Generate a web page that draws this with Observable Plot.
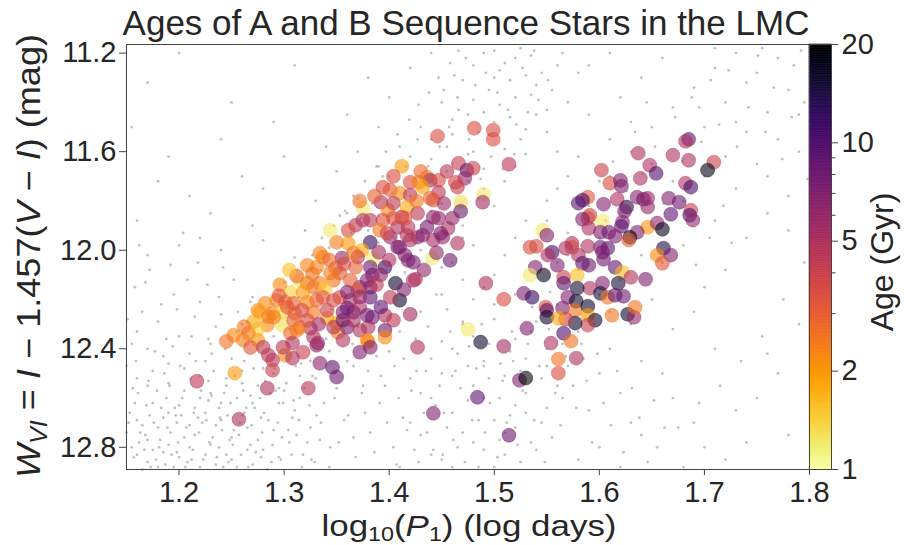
<!DOCTYPE html>
<html><head><meta charset="utf-8">
<script src="https://cdn.jsdelivr.net/npm/d3@7"></script>
<script src="https://cdn.jsdelivr.net/npm/@observablehq/plot@0.6"></script>
<style>
body{margin:0;background:#fff;}
#wrap{position:relative;width:904px;height:545px;overflow:hidden;}
#wrap svg{position:absolute;top:0;overflow:visible;}
</style></head><body><div id="wrap"></div>
<script>
const xTicks = [1.2, 1.3, 1.4, 1.5, 1.6, 1.7, 1.8];
const yTicks = [11.2, 11.6, 12.0, 12.4, 12.8];
const ageTicks = [1, 2, 5, 10, 20];
const ageMinorTicks = [3, 4, 6, 7, 8, 9];

// [log10 P1, W_VI, age (Gyr)]
const seqStars = [
[1.446,11.537,3.5],[1.481,11.505,3.5],[1.499,11.513,3.5],[1.499,11.550,3.5],[1.514,11.651,4.5],[1.412,11.659,2.0],[1.466,11.647,4],[1.474,11.675,9],[1.480,11.667,4],[1.472,11.708,6],[1.463,11.724,3.8],[1.465,11.744,4],[1.490,11.773,1.2],[1.489,11.805,5.5],[1.468,11.805,1.3],[1.468,11.842,8],[1.436,11.704,2.4],[1.439,11.716,6],[1.447,11.716,3.5],[1.447,11.765,4.5],[1.420,11.724,3.5],[1.428,11.724,2.3],[1.432,11.744,1.9],[1.394,11.744,3.5],[1.401,11.756,3.2],[1.410,11.769,2.2],[1.420,11.777,4.5],[1.439,11.789,3.0],[1.442,11.797,3.2],[1.392,11.805,5],[1.375,11.830,1.2],[1.399,11.838,2.3],[1.417,11.825,1.8],[1.404,11.809,4.5],[1.427,11.850,4.5],[1.412,11.866,4.5],[1.394,11.878,3.5],[1.375,11.878,5],[1.382,11.878,4.5],[1.368,11.899,4.5],[1.361,11.919,3.5],[1.442,11.866,6.5],[1.447,11.870,6],[1.436,11.907,7.5],[1.456,11.911,5],[1.418,11.907,4.5],[1.408,11.907,5],[1.391,11.919,2.5],[1.382,11.968,12],[1.374,12.000,1.8],[1.350,11.968,2.4],[1.344,11.919,1.2],[1.361,11.972,2.0],[1.401,11.947,6],[1.408,11.988,7],[1.427,11.947,7],[1.432,11.939,6.5],[1.442,11.959,5.5],[1.451,11.947,6],[1.465,11.972,5],[1.458,12.041,8],[1.441,12.032,1.2],[1.418,12.041,7],[1.423,12.049,7.5],[1.396,12.069,12],[1.385,12.032,1.2],[1.390,12.008,5.5],[1.355,12.032,6],[1.334,12.012,2.3],[1.322,12.061,2.3],[1.315,12.122,1.3],[1.370,12.028,4.5],[1.384,12.101,7],[1.406,12.134,16],[1.425,12.118,5],[1.410,12.203,16],[1.401,12.191,4.5],[1.382,12.191,9],[1.366,12.252,10],[1.384,12.272,8],[1.396,12.264,5],[1.404,12.284,4.5],[1.380,12.313,5],[1.396,12.325,8],[1.396,12.353,2.2],[1.380,12.373,2.3],[1.372,12.414,7],[1.351,12.333,2.3],[1.356,12.365,5],[1.341,12.276,1.9],[1.328,12.252,2.5],[1.331,12.203,3.0],[1.325,12.317,5],[1.331,12.386,5.5],[1.318,12.414,4],[1.334,12.459,6.5],[1.346,12.475,9],[1.350,12.515,8],[1.323,12.560,4.5],[1.427,12.394,5],[1.475,12.321,1.2],[1.487,12.373,16],[1.484,12.597,9],[1.442,12.662,7],[1.306,12.170,1.4],[1.282,12.215,2.2],[1.293,12.203,2.3],[1.301,12.211,3.0],[1.277,12.252,1.6],[1.289,12.256,2.2],[1.299,12.252,1.4],[1.310,12.256,3.0],[1.284,12.304,2.2],[1.298,12.304,1.3],[1.315,12.313,2.4],[1.275,12.321,1.4],[1.266,12.337,2.4],[1.261,12.365,2.4],[1.275,12.365,2.0],[1.306,12.337,2.8],[1.308,12.377,5],[1.333,12.300,5.5],[1.332,12.377,6.5],[1.301,12.426,2.2],[1.308,12.438,5],[1.285,12.426,4.5],[1.289,12.446,4.5],[1.289,12.487,4],[1.253,12.499,2.0],[1.217,12.532,4.5],[1.284,12.560,5],[1.257,12.686,5],[1.350,12.296,1.8],[1.356,12.252,7],[1.360,12.313,7.5],[1.404,11.870,3.5],[1.398,11.931,3.8],[1.417,11.939,4.5],[1.420,11.959,5],[1.410,11.988,7],[1.449,11.931,7],[1.415,12.020,7],[1.382,12.069,8],[1.382,12.150,8],[1.372,12.150,7],[1.379,12.122,6.5],[1.349,12.073,3.0],[1.353,12.093,3.2],[1.366,12.012,2.5],[1.368,12.069,3.0],[1.363,12.122,3.0],[1.370,12.162,3.2],[1.344,12.093,2.4],[1.347,12.122,2.6],[1.337,12.028,2.4],[1.331,12.069,2.3],[1.322,12.134,2.4],[1.328,12.150,2.6],[1.334,12.134,2.4],[1.339,12.154,1.5],[1.337,12.191,3.2],[1.347,12.203,3.5],[1.353,12.191,3.5],[1.322,12.211,2.4],[1.309,12.215,3.0],[1.363,12.203,5],[1.360,12.235,8],[1.372,12.231,5],[1.379,12.264,8],[1.341,12.244,4],[1.317,12.244,3.5],[1.303,12.231,3.2],[1.275,12.244,2.2],[1.290,12.272,2.3],[1.309,12.284,3.0],[1.312,12.325,2.4],[1.322,12.284,3.5],[1.328,12.353,5],[1.347,12.313,5],[1.356,12.284,8],[1.366,12.284,5],[1.372,12.325,5],[1.379,12.365,2.2],[1.382,12.394,7],[1.423,12.122,5],[1.280,12.394,4.5],[1.299,12.394,4.5],
[1.296,12.140,2.2],[1.318,12.172,2.0],[1.327,12.095,2.6],[1.285,12.270,2.4],[1.271,12.290,1.8],[1.262,12.310,2.6],[1.252,12.345,2.2],[1.245,12.370,2.6],[1.268,12.395,3.2],[1.343,12.040,2.8],[1.357,12.055,3.5],[1.312,12.105,2.8],[1.305,12.080,1.6],[1.295,12.185,3.3],[1.392,12.100,6],[1.400,12.040,5],[1.433,12.080,6],[1.445,12.010,6],[1.414,12.160,7],[1.392,12.230,9],[1.372,12.190,6],[1.360,12.170,7],[1.388,12.140,4.5],[1.420,12.260,5.5],[1.455,11.680,4.5],[1.430,11.680,2.8],[1.404,11.700,3.5],[1.386,11.780,3],[1.372,11.800,2.6],[1.426,11.800,2.5],[1.452,11.810,5.5],[1.460,11.870,6],[1.415,11.870,3.3],
[1.685,11.550,9],[1.682,11.558,5],[1.637,11.606,5],[1.670,11.614,5],[1.685,11.635,5],[1.709,11.643,4],[1.703,11.675,18],[1.648,11.655,5],[1.654,11.688,10],[1.602,11.675,4],[1.639,11.708,5],[1.610,11.728,3.5],[1.620,11.716,7],[1.621,11.740,7],[1.682,11.728,5],[1.687,11.744,11],[1.636,11.785,6.5],[1.642,11.793,8],[1.646,11.789,6],[1.646,11.825,6],[1.617,11.793,5],[1.604,11.813,7],[1.589,11.785,3.2],[1.584,11.797,11],[1.580,11.809,9],[1.626,11.825,14],[1.624,11.842,7],[1.666,11.789,7],[1.676,11.805,8],[1.668,11.854,9],[1.687,11.838,4],[1.686,11.858,10],[1.689,11.878,6],[1.591,11.858,4],[1.589,11.870,3.5],[1.584,11.874,7],[1.603,11.882,1.2],[1.590,11.911,5],[1.622,11.886,7],[1.621,11.903,9],[1.646,11.907,2.0],[1.655,11.890,6],[1.660,11.915,17],[1.636,11.927,7],[1.629,11.947,19],[1.628,11.959,3],[1.546,11.919,1.2],[1.550,11.939,7],[1.601,11.927,7],[1.609,11.927,8],[1.615,11.943,7],[1.601,11.988,8],[1.608,11.992,9],[1.589,11.984,5],[1.574,11.972,5],[1.574,11.988,3.5],[1.568,11.992,5],[1.534,11.988,3.5],[1.540,11.984,3.5],[1.555,12.008,11],[1.551,12.020,5],[1.580,12.020,5],[1.661,11.992,14],[1.655,12.020,2.2],[1.668,12.020,7],[1.660,12.053,3.2],[1.584,12.053,9],[1.603,12.008,7],[1.604,12.037,8],[1.590,12.061,8],[1.560,12.061,7],[1.539,12.069,7],[1.534,12.101,1.2],[1.547,12.101,17],[1.566,12.110,4],[1.566,12.134,9],[1.579,12.101,1.6],[1.615,12.069,9],[1.622,12.089,1.6],[1.630,12.110,5],[1.644,12.118,7],[1.603,12.134,7],[1.618,12.134,15],[1.591,12.154,5],[1.579,12.154,15],[1.570,12.191,7],[1.528,12.175,7],[1.536,12.191,12],[1.509,12.199,3.5],[1.601,12.175,15],[1.608,12.191,2.6],[1.615,12.183,9],[1.623,12.187,8],[1.578,12.207,16],[1.549,12.231,3.5],[1.550,12.244,9],[1.565,12.235,7],[1.577,12.244,2.6],[1.589,12.227,16],[1.589,12.264,1.9],[1.596,12.284,16],[1.589,12.304,4],[1.577,12.296,16],[1.568,12.280,4],[1.550,12.272,16],[1.561,12.276,1.8],[1.612,12.264,2.6],[1.627,12.260,16],[1.633,12.272,6],[1.634,12.231,2.6],[1.531,12.317,7],[1.566,12.337,10],[1.573,12.369,2.6],[1.554,12.377,5],[1.509,12.390,5.5],[1.561,12.442,2.6],[1.578,12.438,5],[1.561,12.499,3.5],[1.524,12.528,7],[1.530,12.519,19],[1.514,12.751,8],[1.492,12.134,5]
];

// background OGLE stars [log10 P1, W_VI]
const fieldStars = [
[1.16,12.83],[1.21,12.71],[1.18,12.88],[1.27,12.62],[1.23,12.79],[1.15,12.74],[1.30,12.57],[1.19,12.66],[1.25,12.85],[1.22,12.60],[1.17,12.77],[1.28,12.81],[1.24,12.69],[1.20,12.84],[1.26,12.54],[1.16,12.69],[1.29,12.73],[1.22,12.88],[1.18,12.72],[1.31,12.65],[1.25,12.76],[1.20,12.63],[1.27,12.87],[1.23,12.58],[1.17,12.86],[1.29,12.50],[1.21,12.80],[1.26,12.67],[1.19,12.79],[1.24,12.62],
[1.155,12.80],[1.285,12.69],[1.215,12.75],[1.245,12.83],[1.175,12.62],[1.265,12.72],[1.205,12.57],[1.235,12.87],[1.305,12.78],[1.195,12.88],[1.255,12.60],[1.225,12.66],[1.275,12.55],[1.165,12.71],[1.295,12.84],[1.185,12.82],[1.315,12.60],[1.235,12.71],[1.205,12.76],[1.265,12.81],[1.165,12.89],[1.245,12.55],[1.275,12.77],[1.185,12.68],[1.215,12.64],[1.295,12.62],[1.255,12.88],[1.325,12.72],[1.175,12.81],[1.225,12.83],
[1.158,12.62],[1.198,12.70],[1.238,12.64],[1.278,12.68],[1.318,12.83],[1.168,12.75],[1.208,12.86],[1.248,12.77],[1.288,12.86],[1.228,12.53],[1.188,12.60],[1.268,12.59],[1.308,12.68],[1.218,12.68],[1.258,12.70],[1.178,12.85],[1.298,12.76],[1.238,12.80],[1.198,12.82],[1.278,12.84],[1.152,12.70],[1.192,12.74],[1.232,12.76],[1.272,12.64],[1.312,12.75],[1.162,12.78],[1.202,12.67],[1.242,12.88],[1.282,12.53],[1.222,12.70],[1.262,12.66],[1.172,12.67],[1.212,12.85],[1.252,12.73],[1.292,12.57],[1.182,12.77],[1.228,12.61],[1.268,12.79],[1.196,12.64],[1.246,12.67],
[1.153,12.66],[1.157,12.84],[1.161,12.58],[1.163,12.74],[1.167,12.81],[1.169,12.63],[1.173,12.88],[1.176,12.70],[1.179,12.57],[1.181,12.80],[1.183,12.64],[1.187,12.87],[1.189,12.72],[1.191,12.55],[1.193,12.83],[1.197,12.67],[1.199,12.78],[1.203,12.60],[1.206,12.88],[1.207,12.72],[1.211,12.52],[1.213,12.81],[1.214,12.66],[1.219,12.74],[1.221,12.57],[1.223,12.85],[1.226,12.69],[1.229,12.78],[1.231,12.59],[1.233,12.49],
[1.236,12.84],[1.239,12.68],[1.241,12.73],[1.243,12.58],[1.247,12.86],[1.249,12.62],[1.251,12.79],[1.253,12.51],[1.257,12.75],[1.259,12.83],[1.261,12.57],[1.264,12.64],[1.266,12.88],[1.269,12.71],[1.271,12.48],[1.273,12.82],[1.277,12.60],[1.279,12.74],[1.281,12.66],[1.284,12.89],[1.287,12.58],[1.289,12.79],[1.291,12.48],[1.294,12.70],[1.297,12.85],[1.299,12.62],[1.302,12.54],[1.304,12.73],[1.307,12.83],[1.309,12.61],
[1.311,12.47],[1.314,12.69],[1.317,12.88],[1.319,12.56],[1.322,12.78],[1.324,12.63],[1.327,12.51],[1.329,12.86],[1.331,12.67],[1.334,12.77],[1.156,12.56],[1.171,12.53],[1.186,12.50],[1.201,12.47],[1.216,12.45],[1.231,12.42],[1.159,12.45],[1.177,12.41],[1.194,12.39],[1.212,12.35],[1.244,12.40],[1.262,12.45],[1.256,12.25],[1.183,12.22],[1.168,12.13],[1.192,12.06],[1.151,12.28],[1.227,12.14],[1.242,12.07],[1.204,11.93],
[1.16,12.52],[1.19,12.46],[1.22,12.51],[1.17,12.40],[1.25,12.44],[1.20,12.35],[1.15,12.47],[1.23,12.38],[1.18,12.29],[1.26,12.49],[1.21,12.42],[1.16,12.33],[1.24,12.26],[1.19,12.54],[1.27,12.37],[1.22,12.21],[1.17,12.55],[1.155,12.38],[1.205,12.48],[1.235,12.31],[1.185,12.43],[1.215,12.27],[1.165,12.25],[1.245,12.52],[1.195,12.18],[1.255,12.33],[1.175,12.49],[1.225,12.45],[1.158,12.15],[1.208,12.12],[1.188,12.36],[1.238,12.19],[1.265,12.29],[1.172,12.08],[1.218,12.05],[1.252,12.12],[1.162,11.98],[1.198,12.24],[1.228,12.36],[1.268,12.21],
[1.28,12.48],[1.31,12.41],[1.26,12.30],[1.33,12.52],[1.29,12.22],[1.36,12.45],[1.30,12.13],[1.34,12.36],[1.38,12.49],[1.32,12.27],[1.27,12.19],[1.35,12.10],[1.40,12.41],[1.37,12.31],[1.42,12.52],[1.31,12.03],[1.39,12.22],[1.44,12.44],[1.36,12.01],[1.41,12.33],[1.46,12.51],[1.38,12.13],[1.43,12.25],[1.40,12.05],[1.45,12.37],[1.29,12.35],[1.33,12.17],[1.47,12.29],[1.35,12.56],[1.42,12.15],
[1.275,12.40],[1.305,12.32],[1.325,12.45],[1.345,12.24],[1.365,12.38],[1.385,12.06],[1.405,12.47],[1.425,12.36],[1.445,12.18],[1.465,12.42],[1.315,12.51],[1.355,12.19],[1.395,12.29],[1.435,12.49],[1.375,12.55],[1.415,12.09],[1.455,12.24],[1.335,12.08],[1.295,12.56],[1.285,12.26],[1.355,11.98],[1.37,12.05],[1.39,11.97],[1.41,11.93],[1.43,12.00],[1.45,12.07],[1.47,12.12],[1.48,12.35],[1.49,12.47],[1.50,12.22],
[1.302,12.18],[1.312,12.08],[1.327,12.02],[1.336,11.95],[1.347,11.90],[1.358,11.84],[1.366,11.78],[1.377,11.72],[1.388,11.66],[1.397,11.60],[1.408,11.53],[1.419,11.47],[1.428,11.41],[1.438,11.36],[1.447,11.30],[1.458,11.24],[1.466,11.19],[1.452,11.35],[1.462,11.29],[1.473,11.22],[1.482,11.33],[1.492,11.28],[1.503,11.36],[1.513,11.43],[1.521,11.49],[1.532,11.44],[1.542,11.39],[1.551,11.31],[1.527,11.26],[1.538,11.19],
[1.497,11.62],[1.508,11.67],[1.519,11.61],[1.487,11.71],[1.476,11.55],[1.466,11.43],[1.457,11.50],[1.448,11.58],[1.437,11.66],[1.427,11.55],[1.416,11.66],[1.403,11.77],[1.394,11.70],[1.384,11.81],[1.373,11.87],[1.364,11.93],[1.353,11.86],[1.343,11.99],[1.334,12.05],[1.323,12.11],[1.314,12.19],[1.296,12.27],[1.304,12.38],[1.316,12.46],[1.343,12.41],[1.366,12.47],[1.388,12.43],[1.414,12.44],[1.437,12.31],[1.458,12.33],
[1.348,12.60],[1.335,12.70],[1.352,12.78],[1.326,12.85],[1.361,12.67],[1.374,12.58],[1.343,12.88],[1.382,12.74],[1.368,12.84],[1.391,12.62],[1.404,12.80],[1.396,12.55],[1.413,12.68],[1.421,12.57],[1.428,12.86],[1.436,12.74],[1.444,12.63],[1.451,12.83],
[1.433,12.66],[1.424,12.81],[1.417,12.73],[1.407,12.87],[1.398,12.70],[1.386,12.82],[1.377,12.66],[1.366,12.76],[1.357,12.69],[1.344,12.80],[1.338,12.62],[1.392,12.51],[1.409,12.60],[1.426,12.49],[1.448,12.55],[1.463,12.49],[1.476,12.39],[1.488,12.30],[1.506,12.46],[1.517,12.33],[1.536,12.23],[1.553,12.17],
[1.38,11.92],[1.41,11.84],[1.37,11.79],[1.43,11.93],[1.40,11.70],[1.45,11.81],[1.42,11.62],[1.47,11.74],[1.44,11.55],[1.49,11.67],[1.46,11.47],[1.51,11.59],[1.48,11.39],[1.53,11.51],[1.50,11.30],[1.55,11.43],[1.52,11.22],[1.54,11.33],[1.49,11.20],[1.56,11.25],
[1.39,11.86],[1.415,11.76],[1.435,11.88],[1.455,11.68],[1.475,11.61],[1.495,11.53],[1.515,11.46],[1.535,11.37],[1.505,11.27],[1.525,11.18],[1.465,11.86],[1.485,11.79],[1.445,11.73],[1.425,11.71],[1.405,11.95],[1.455,11.58],[1.475,11.45],[1.495,11.35],[1.515,11.31],[1.545,11.28],
[1.485,11.52],[1.465,11.38],[1.505,11.41],[1.525,11.55],[1.535,11.21],[1.455,11.94],[1.475,11.72],[1.44,11.63],[1.46,11.53],[1.48,11.60],[1.50,11.48],[1.52,11.38],[1.54,11.45],[1.50,11.19],[1.53,11.29],[1.49,11.44],[1.47,11.31],[1.43,11.50],[1.41,11.58],[1.45,11.40],
[1.39,11.66],[1.42,11.78],[1.46,11.65],[1.48,11.25],[1.51,11.24],[1.555,11.35],[1.565,11.20],[1.36,11.85],[1.40,11.88],[1.44,11.84],[1.47,11.90],[1.50,11.82],[1.49,11.75],[1.52,11.66],[1.51,11.72],[1.53,11.61],[1.55,11.52],[1.57,11.40],[1.58,11.28],[1.56,11.60],
[1.45,12.85],[1.48,12.78],[1.46,12.66],[1.50,12.88],[1.52,12.72],[1.49,12.60],[1.54,12.81],[1.51,12.51],[1.47,12.74],[1.55,12.64],[1.53,12.44],[1.50,12.69],[1.56,12.55],[1.52,12.36],[1.48,12.55],[1.57,12.47],[1.54,12.29],[1.51,12.83],[1.55,12.40],[1.53,12.58],[1.49,12.45],[1.56,12.22],[1.52,12.63],[1.58,12.33],
[1.465,12.80],[1.485,12.69],[1.505,12.77],[1.525,12.86],[1.545,12.52],[1.565,12.38],[1.475,12.61],[1.495,12.52],[1.515,12.41],[1.535,12.33],[1.555,12.26],[1.575,12.18],[1.455,12.72],[1.505,12.60],[1.545,12.70],[1.525,12.49],[1.485,12.88],[1.535,12.78],[1.515,12.67],[1.495,12.38],[1.475,12.47],[1.565,12.60],[1.585,12.44],[1.555,12.76],[1.575,12.55],[1.595,12.30],
[1.442,12.81],[1.452,12.66],[1.461,12.77],[1.468,12.56],[1.472,12.86],[1.479,12.69],[1.483,12.48],[1.491,12.74],[1.496,12.62],[1.503,12.84],[1.508,12.53],[1.512,12.70],[1.518,12.45],[1.522,12.79],[1.527,12.57],[1.532,12.38],[1.538,12.69],[1.543,12.47],[1.548,12.86],[1.552,12.32],[1.558,12.58],[1.563,12.71],[1.568,12.43],[1.572,12.27],[1.578,12.64],[1.583,12.38],[1.588,12.53],[1.593,12.78],[1.598,12.42],[1.604,12.62],[1.611,12.71],[1.617,12.49],[1.623,12.82],[1.631,12.56],[1.638,12.68],[1.646,12.86],[1.652,12.61],[1.662,12.72],
[1.60,12.50],[1.59,12.65],[1.61,12.40],[1.62,12.58],[1.60,12.80],[1.63,12.70],[1.58,12.85],[1.62,12.88],[1.64,12.45],[1.61,12.25],[1.44,12.60],[1.43,12.75],[1.46,12.40],[1.47,12.30],[1.45,12.50],[1.50,12.28],[1.52,12.18],[1.54,12.10],[1.56,12.05],[1.57,12.12],[1.48,12.20],[1.46,12.88],[1.51,12.74],[1.53,12.66],[1.49,12.81],[1.55,12.47],[1.44,12.83],[1.42,12.70],[1.41,12.88],[1.43,12.58],
[1.58,12.08],[1.60,11.95],[1.62,12.12],[1.59,11.82],[1.64,12.02],[1.61,11.70],[1.66,11.90],[1.63,11.60],[1.68,11.80],[1.65,11.50],[1.70,11.70],[1.67,11.42],[1.72,11.62],[1.69,11.34],[1.74,11.52],[1.71,11.26],[1.76,11.44],[1.73,11.20],[1.78,11.35],[1.75,11.28],
[1.57,11.93],[1.60,11.72],[1.62,11.85],[1.65,11.65],[1.67,11.72],[1.70,11.50],[1.72,11.40],[1.74,11.32],[1.77,11.22],[1.79,11.45],[1.66,12.05],[1.68,11.98],[1.71,11.88],[1.73,11.75],[1.75,11.65],[1.77,11.55],[1.79,11.60],[1.78,11.78],[1.76,11.85],[1.74,11.95],
[1.72,12.08],[1.70,12.15],[1.69,12.25],[1.67,12.32],[1.65,12.20],[1.63,12.30],[1.60,12.18],[1.64,11.78],[1.61,11.55],[1.58,11.62],[1.56,11.75],[1.55,11.88],[1.57,12.02],[1.59,11.45],[1.62,11.38],[1.64,11.30],[1.66,11.22],[1.68,11.55],[1.71,11.18],[1.73,11.48],
[1.606,11.88],[1.613,11.64],[1.626,11.76],[1.634,11.52],[1.641,11.69],[1.653,11.58],[1.661,11.81],[1.672,11.46],[1.679,11.64],[1.688,11.38],[1.697,11.56],[1.706,11.31],[1.714,11.49],[1.723,11.27],[1.731,11.58],[1.742,11.42],[1.751,11.21],[1.758,11.52],[1.766,11.34],[1.774,11.63],[1.783,11.46],[1.792,11.19],[1.798,11.71],[1.718,11.82],[1.705,11.95],[1.692,12.06],[1.726,11.97],
[1.76,11.70],[1.78,11.92],[1.795,12.05],[1.775,12.20],[1.755,12.35],[1.735,12.45],[1.715,12.55],[1.695,12.62],[1.675,12.72],[1.655,12.80],
[1.16,11.88],[1.19,11.62],[1.22,11.95],[1.25,11.40],[1.28,11.75],[1.31,11.25],[1.34,11.58],[1.17,11.32],[1.21,11.78],[1.24,11.55],[1.27,11.90],[1.30,11.62],[1.33,11.80],[1.36,11.45],[1.38,11.30],[1.20,11.20],[1.26,11.70],[1.32,11.92],[1.35,11.68],[1.29,11.48],
[1.23,11.85],[1.18,11.72],[1.155,11.50],[1.37,11.60],[1.40,11.38],[1.42,11.26],[1.44,11.20],[1.39,11.50],[1.17,12.02],[1.20,11.98],[1.24,12.00],[1.28,11.96],
[1.66,12.50],[1.69,12.70],[1.72,12.85],[1.75,12.60],[1.78,12.75],[1.71,12.40],[1.74,12.78],[1.77,12.50],[1.80,12.88],[1.68,12.88],[1.73,12.65],[1.76,12.42],[1.79,12.30],[1.70,12.80],[1.67,12.60],[1.64,12.75],
[1.46,12.05],[1.48,11.98],[1.50,12.10],[1.52,11.95],[1.49,12.15],[1.51,12.02],[1.53,11.88],[1.54,12.00],[1.47,11.95],[1.45,12.18],[1.55,11.80],[1.57,11.70],[1.59,11.25],[1.61,11.20],[1.63,11.48],[1.785,11.25],[1.795,11.40],[1.755,11.18],[1.695,11.42],[1.645,11.40]
];

const field = fieldStars.map(([x, y]) => ({x, y}));
const stars = seqStars.map(([x, y, age]) => ({x, y, age}));
const colorOpts = {type: "log", domain: [1, 20], scheme: "inferno", reverse: true};
const FONT = "'Liberation Sans', Arial, sans-serif";
const INK = "#262626";

const main = Plot.plot({
  width: 904, height: 545,
  marginLeft: 126, marginRight: 95, marginTop: 44, marginBottom: 76,
  style: {fontFamily: FONT, color: INK, background: "transparent", overflow: "visible"},
  x: {domain: [1.15, 1.8]},
  y: {domain: [11.165, 12.89], reverse: true},
  color: colorOpts,
  marks: [
    Plot.dot(field, {x: "x", y: "y", r: 1.4, fill: "#5a5a5a", fillOpacity: 0.38}),
    Plot.dot(stars, {x: "x", y: "y", r: 7, fill: "age", fillOpacity: 0.6, stroke: "age", strokeOpacity: 0.45, strokeWidth: 0.8}),
    Plot.frame({stroke: "#444", strokeWidth: 1}),
    Plot.axisX({ticks: xTicks, tickFormat: d3.format(".1f"), tickSize: 6, tickPadding: 6, label: null, fontSize: 29, stroke: "#444"}),
    Plot.axisY({ticks: yTicks, tickFormat: d3.format(".1f"), tickSize: 7, tickPadding: 3, label: null, fontSize: 29, stroke: "#444"})
  ]
});

const bands = d3.range(240).map(i => ({lo: Math.pow(20, i / 240), hi: Math.pow(20, (i + 1) / 240)}));
const cbar = Plot.plot({
  width: 95, height: 545,
  marginLeft: 0, marginRight: 73, marginTop: 44, marginBottom: 76,
  style: {fontFamily: FONT, color: INK, background: "transparent", overflow: "visible"},
  y: {type: "log", domain: [1, 20]},
  color: colorOpts,
  marks: [
    Plot.rect(bands, {y1: "lo", y2: "hi", fill: d => Math.sqrt(d.lo * d.hi), stroke: d => Math.sqrt(d.lo * d.hi), strokeWidth: 0.6}),
    Plot.frame({stroke: "#444", strokeWidth: 1}),
    Plot.axisY({anchor: "right", ticks: ageTicks, tickFormat: d => String(d), tickSize: 6, tickPadding: 4, fontSize: 29, label: null, stroke: "#444"}),
    Plot.axisY({anchor: "right", ticks: ageMinorTicks, tickFormat: () => "", tickSize: 3.5, label: null, stroke: "#444"})
  ]
});

const wrap = document.getElementById("wrap");
main.style.left = "0px";
cbar.style.left = "809px";
wrap.appendChild(main);
wrap.appendChild(cbar);

const svg = d3.select(main);
svg.append("text")
  .attr("x", 466).attr("y", 35).attr("text-anchor", "middle")
  .attr("font-family", FONT).attr("font-size", 35).attr("fill", INK)
  .text("Ages of A and B Sequence Stars in the LMC");

// x label: log10(P1) (log days)
const xl = svg.append("text")
  .attr("x", 469).attr("y", 536).attr("text-anchor", "middle")
  .attr("font-family", FONT).attr("font-size", 30).attr("fill", INK)
  .attr("textLength", 295).attr("lengthAdjust", "spacingAndGlyphs");
xl.append("tspan").text("log");
xl.append("tspan").attr("dy", 5).attr("font-size", 20).text("10");
xl.append("tspan").attr("dy", -5).text("(");
xl.append("tspan").attr("font-style", "italic").text("P");
xl.append("tspan").attr("dy", 5).attr("font-size", 20).text("1");
xl.append("tspan").attr("dy", -5).text(") (log days)");

// y label: W_VI = I − 1.457(V − I) (mag)
const yl = svg.append("text")
  .attr("transform", "translate(40,256) rotate(-90)").attr("text-anchor", "middle")
  .attr("font-family", FONT).attr("font-size", 33).attr("fill", INK)
  .attr("textLength", 444).attr("lengthAdjust", "spacingAndGlyphs");
yl.append("tspan").attr("font-style", "italic").text("W");
yl.append("tspan").attr("dy", 7).attr("font-size", 23).attr("font-style", "italic").text("VI");
yl.append("tspan").attr("dy", -7).text(" = ");
yl.append("tspan").attr("font-style", "italic").text("I");
yl.append("tspan").text(" \u2212 1.457(");
yl.append("tspan").attr("font-style", "italic").text("V");
yl.append("tspan").text(" \u2212 ");
yl.append("tspan").attr("font-style", "italic").text("I");
yl.append("tspan").text(") (mag)");

d3.select(cbar).append("text")
  .attr("transform", "translate(84,262) rotate(-90)").attr("text-anchor", "middle")
  .attr("font-family", FONT).attr("font-size", 32).attr("fill", INK)
  .text("Age (Gyr)");
</script></body></html>
